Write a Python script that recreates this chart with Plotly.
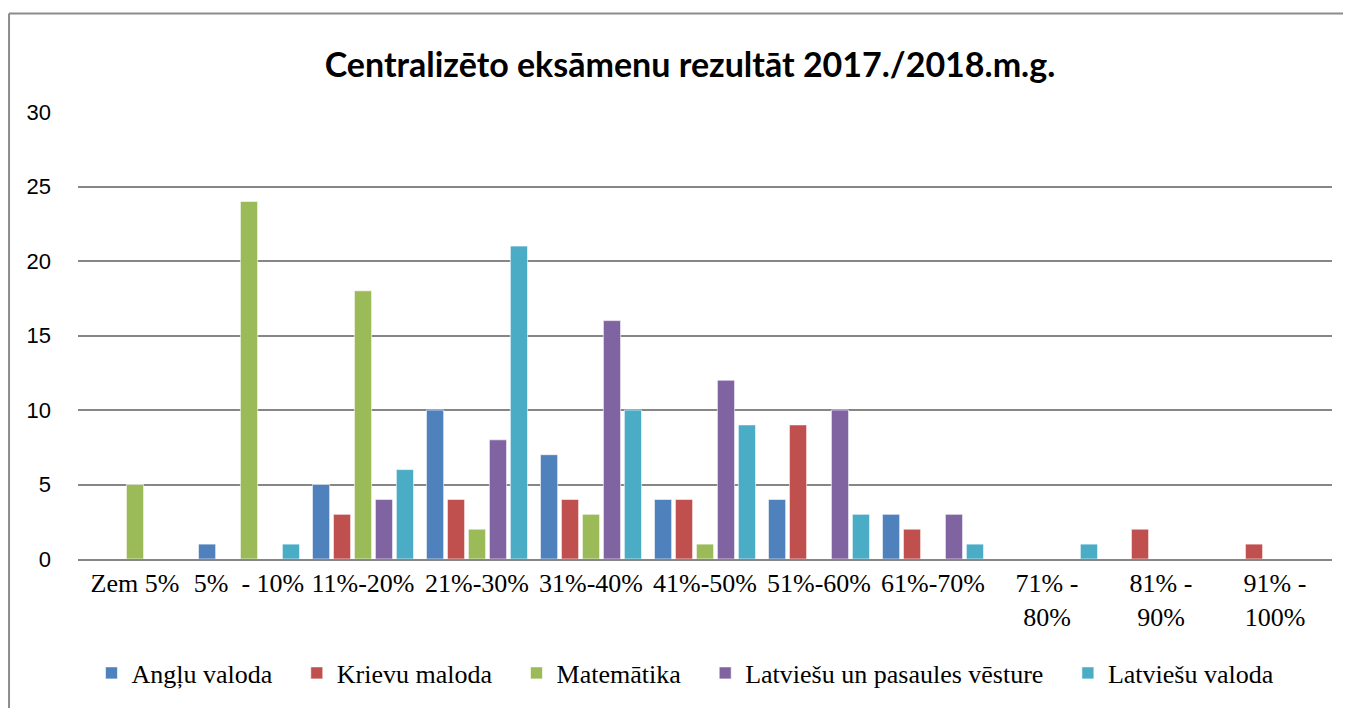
import plotly.graph_objects as go

# Categories (result ranges)
categories = ["Zem 5%", "5%  - 10%", "11%-20%", "21%-30%", "31%-40%", "41%-50%",
              "51%-60%", "61%-70%", "71% -<br>80%", "81% -<br>90%", "91% -<br>100%"]

# Number of students per range, per subject
angļu_valoda = [0, 1, 5, 10, 7, 4, 4, 3, 0, 0, 0]
krievu_maloda = [0, 0, 3, 4, 4, 4, 9, 2, 0, 2, 1]
matemātika = [5, 24, 18, 2, 3, 1, 0, 0, 0, 0, 0]
vēsture = [0, 0, 4, 8, 16, 12, 10, 3, 0, 0, 0]
latviešu_valoda = [0, 1, 6, 21, 10, 9, 3, 1, 1, 0, 0]

series = [
    ("Angļu valoda", angļu_valoda, "#4F81BD"),
    ("Krievu maloda", krievu_maloda, "#C0504D"),
    ("Matemātika", matemātika, "#9BBB59"),
    ("Latviešu un pasaules vēsture", vēsture, "#8064A2"),
    ("Latviešu valoda", latviešu_valoda, "#4BACC6"),
]

fig = go.Figure()
for name, values, colour in series:
    fig.add_trace(go.Bar(
        x=categories,
        y=values,
        # a few non-breaking spaces widen the gap between legend entries
        name=name + "\u00a0" * 3,
        marker=dict(color=colour, line=dict(color="rgba(255,255,255,0.6)", width=1)),
    ))

# page has an 8px body margin, so the figure is a bit smaller than the window
fig.update_layout(
    width=1343,
    height=700,
    margin=dict(l=70, r=19, t=104, b=147),
    paper_bgcolor="white",
    plot_bgcolor="white",
    barmode="group",
    bargap=0.08,
    bargroupgap=0.18,
    title=dict(
        text="<b>Centralizēto eksāmenu rezultāt 2017./2018.m.g.</b>",
        x=0.488, xref="paper", xanchor="center",
        y=0.918, yanchor="middle",
        font=dict(family="Lato", size=34, color="black"),
    ),
    legend=dict(
        orientation="h",
        x=0.492, xanchor="center",
        y=-0.255, yanchor="middle",
        font=dict(family="Liberation Serif", size=26, color="black"),
        itemwidth=30,
        traceorder="normal",
    ),
    showlegend=True,
)

fig.update_xaxes(
    showgrid=False,
    showline=True,
    linecolor="#868686",
    linewidth=2,
    ticks="",
    tickfont=dict(family="Liberation Serif", size=26, color="black"),
)
fig.update_yaxes(
    range=[0, 30],
    dtick=5,
    showgrid=True,
    gridcolor="#868686",
    gridwidth=1.5,
    zeroline=False,
    ticks="",
    ticklabelstandoff=26,
    tickfont=dict(family="Liberation Sans", size=22, color="black"),
)

# Outer chart border: only the left and top edges fall inside the picture
border = dict(color="#8C8C8C", width=2)
fig.add_shape(type="line", xref="paper", yref="paper",
              x0=-0.055, x1=-0.055, y0=-0.5, y1=1.2205, line=border, layer="below")
fig.add_shape(type="line", xref="paper", yref="paper",
              x0=-0.055, x1=1.2, y0=1.2205, y1=1.2205, line=border, layer="below")

fig.write_html("out.html")
